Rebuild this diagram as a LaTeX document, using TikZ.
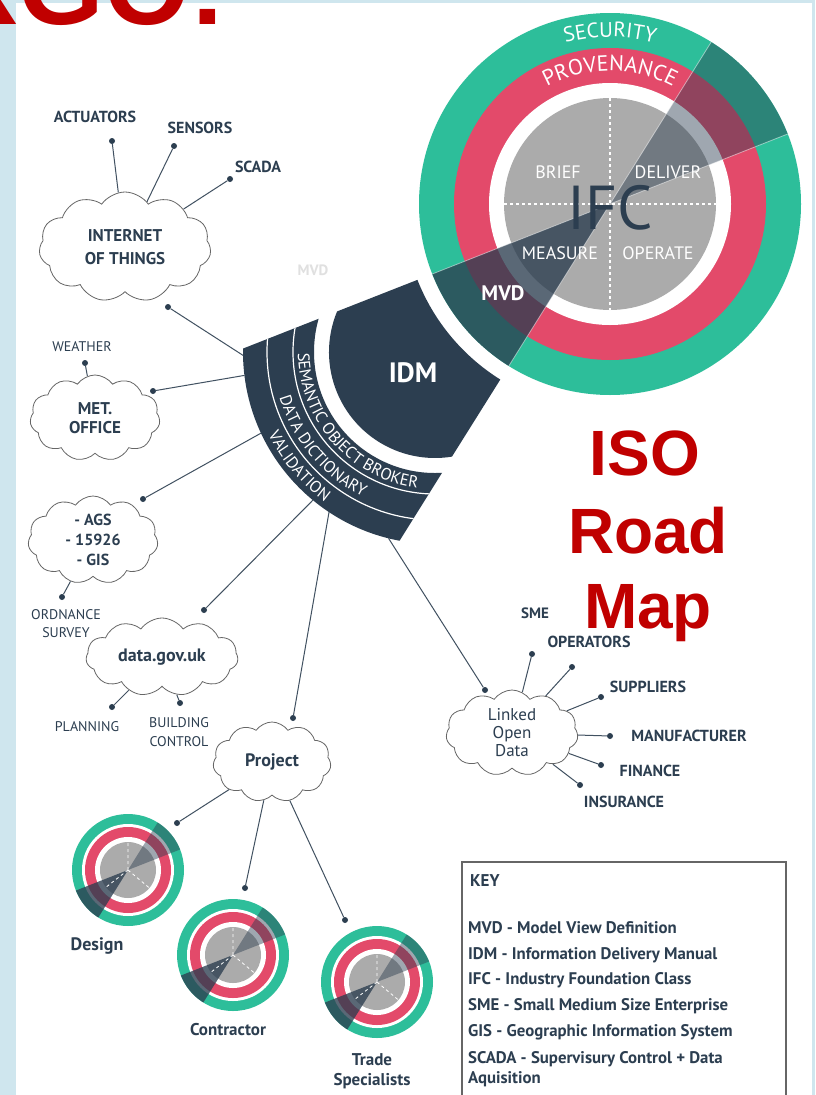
\documentclass[tikz,border=0pt]{standalone}
\usepackage{fontspec}
\setmainfont{PT Sans}
\newfontfamily\arialfont{Liberation Sans}
\usepackage{tikz}
\usetikzlibrary{calc, positioning, shapes.symbols, decorations.text}

\definecolor{navy}{HTML}{2C3E50}
\definecolor{ifcgreen}{HTML}{2DBE9A}
\definecolor{ifcpink}{HTML}{E34A6A}
\definecolor{ifcgrey}{HTML}{ABABAB}
\definecolor{isored}{HTML}{C00000}
\definecolor{slide}{HTML}{CFE6EE}
\newcommand\fsz[2]{\fontsize{#1}{#2}\selectfont}

\begin{document}
\begin{tikzpicture}[x=1pt, y=1pt,
        cloudbox/.style={cloud, cloud puffs=11, cloud puff arc=110, cloud ignores aspect, draw=black!60, line width=.8pt, fill=white, align=center, text=navy, inner sep=0pt},
        endpt/.style={circle, fill=navy, inner sep=0pt, minimum size=6pt},
        lbl/.style={text=navy, font=\bfseries\fsz{16}{19}, align=center, inner sep=0pt},
        thinlbl/.style={text=navy, font=\fsz{14}{18}, align=center, inner sep=0pt},
        keyitem/.style={text=navy, font=\bfseries\fsz{16.8}{20}, anchor=base west, align=left, inner sep=0pt},
        wheeltxt/.style={text=white, font=\fsz{18}{20}, inner sep=0pt},
        link/.style={draw=navy!90!white, line width=1pt},
        bandtxt/.style={decorate, decoration={text along path, text align=center, text color=white, text={#1}}}]

    % Slide
    \useasboundingbox (0,0) rectangle (815,-1095);
    \fill[slide] (0,0) rectangle (815,-1095);
    \fill[white] (16,-3) rectangle (812,-1095);
    \node[anchor=base west, text=isored, font=\arialfont\bfseries\fsz{110}{110}, inner sep=0pt] (ttl) at (-61,-24) {RGO:};

    % IFC wheel
    \coordinate (ifc) at (610,-204);
    \coordinate (c3) at (435,-352);
    \fill[ifcgreen] (ifc) circle (191);
    \fill[ifcpink] (ifc) circle (156);
    \fill[white] (ifc) circle (121);
    \fill[ifcgrey] (ifc) circle (106);
    \fill[navy, opacity=.45] (ifc) -- ($(ifc)+(21.5:191)$) arc[start angle=21.5, end angle=58, radius=191] -- cycle;
    \fill[navy, opacity=.78] (ifc) -- ($(ifc)+(201.5:191)$) arc[start angle=201.5, end angle=238, radius=191] -- cycle;
    \draw[white, opacity=.5, line width=.8pt] ($(ifc)+(21.5:191)$) -- ($(ifc)+(201.5:191)$) ($(ifc)+(58:191)$) -- ($(ifc)+(238:191)$);
    \draw[white, dashed, line width=1.2pt] ($(ifc)+(0,106)$) -- ($(ifc)+(0,-106)$) ($(ifc)+(-106,0)$) -- ($(ifc)+(106,0)$);
    \path[bandtxt={|\fsz{21}{21}|SECURITY}] ($(ifc)+(125:167)$) arc[start angle=125, end angle=55, radius=167];
    \path[bandtxt={|\fsz{22}{22}|PROVENANCE}] ($(ifc)+(132:133)$) arc[start angle=132, end angle=48, radius=133];
    \node[wheeltxt] (brief) at (558,-172) {BRIEF};
    \node[wheeltxt] (deliver) at (668,-172) {DELIVER};
    \node[wheeltxt] (measure) at (560,-253) {MEASURE};
    \node[wheeltxt] (operate) at (658,-253) {OPERATE};
    \node[text=navy, font=\fsz{62}{62}, inner sep=0pt] (ifclbl) at (610,-208) {IFC};
    \node[text=white, font=\bfseries\fsz{21}{24}, inner sep=0pt] (mvd) at (503,-293) {MVD};

    % IDM and bands
    \fill[navy] ($(ifc)+(201.5:207)$) -- ($(c3)+(157.5:106)$) arc[start angle=157.5, end angle=279.2, radius=106] -- ($(ifc)+(238:207)$) arc[start angle=238, end angle=201.5, radius=207] -- cycle;
    \begin{scope}
        \clip ($(ifc)+(201.5:300)$) -- ($(ifc)+(201.5:460)$) -- ($(ifc)+(238:460)$) -- ($(ifc)+(238:300)$) -- cycle;
        \fill[navy, even odd rule] (c3) circle (192) (c3) circle (121);
        \draw[white, line width=1.2pt] (c3) circle (142) (c3) circle (168);
    \end{scope}
    \path[bandtxt={|\fsz{16.5}{16.5}|SEMANTIC OBJECT BROKER}] ($(c3)+(172:137)$) arc[start angle=172, end angle=271, radius=137];
    \path[bandtxt={|\fsz{16.5}{16.5}|DATA DICTIONARY}] ($(c3)+(175:162)$) arc[start angle=175, end angle=265, radius=162];
    \path[bandtxt={|\fsz{16.5}{16.5}|VALIDATION}] ($(c3)+(180:186)$) arc[start angle=180, end angle=260, radius=186];
    \node[text=white, font=\bfseries\fsz{28}{30}, inner sep=0pt] (idm) at (413,-373) {IDM};
    \node[text=black!12, font=\bfseries\fsz{15}{15}, inner sep=0pt] (ghost) at (313,-270) {MVD};

    % Small wheels
    \foreach \nm/\cx/\cy in {wDesign/128/870, wContr/233/955, wTrade/377/982}{
        \coordinate (\nm) at (\cx,-\cy);
        \fill[ifcgreen] (\nm) circle (56);
        \fill[white] (\nm) circle (46);
        \fill[ifcpink] (\nm) circle (43);
        \fill[white] (\nm) circle (33);
        \fill[ifcgrey] (\nm) circle (28);
        \fill[navy, opacity=.45] (\nm) -- ++(21.5:56) arc[start angle=21.5, end angle=58, radius=56] -- cycle;
        \fill[navy, opacity=.78] (\nm) -- ++(201.5:56) arc[start angle=201.5, end angle=238, radius=56] -- cycle;
        \draw[white, dashed, line width=.8pt] (\nm) -- ++(90:28) (\nm) -- ++(320:28) (\nm) -- ++(218:28);
    }

    % Nodes
    \node[cloudbox, minimum width=172, minimum height=110, font=\bfseries\fsz{17}{23}] (iot) at (125,-247) {INTERNET\\OF THINGS};
    \node[cloudbox, minimum width=130, minimum height=86, font=\bfseries\fsz{17}{19}] (met) at (95,-418) {MET.\\OFFICE};
    \node[cloudbox, minimum width=130, minimum height=88, font=\bfseries\fsz{16}{20}] (ags) at (93,-540) {- AGS\\- 15926\\- GIS};
    \node[cloudbox, minimum width=152, minimum height=78, font=\bfseries\fsz{18}{20}] (gov) at (162,-657) {data.gov.uk};
    \node[cloudbox, minimum width=118, minimum height=80, font=\bfseries\fsz{18}{20}] (proj) at (272,-762) {Project};
    \node[cloudbox, minimum width=132, minimum height=86, font=\fsz{17}{18}] (lod) at (512,-733) {Linked\\Open\\Data};

    \node[lbl] (act) at (95,-117) {ACTUATORS};
    \node[lbl] (sen) at (200,-128) {SENSORS};
    \node[lbl] (scada) at (258,-167) {SCADA};
    \node[thinlbl] (weather) at (82,-347) {WEATHER};
    \node[thinlbl] (ordn) at (66,-624) {ORDNANCE\\SURVEY};
    \node[thinlbl] (plan) at (87,-727) {PLANNING};
    \node[thinlbl, font=\fsz{14}{19}] (bcon) at (179,-732) {BUILDING\\CONTROL};
    \node[lbl, font=\bfseries\fsz{15}{18}] (sme) at (535,-613) {SME};
    \node[lbl] (oper) at (589,-642) {OPERATORS};
    \node[lbl] (supp) at (648,-687) {SUPPLIERS};
    \node[lbl] (manu) at (689,-736) {MANUFACTURER};
    \node[lbl] (fin) at (650,-771) {FINANCE};
    \node[lbl] (ins) at (624,-802) {INSURANCE};
    \node[lbl, font=\bfseries\fsz{18}{20}] (dsgnlbl) at (97,-946) {Design};
    \node[lbl, font=\bfseries\fsz{17}{20}] (contrlbl) at (228,-1030) {Contractor};
    \node[lbl, font=\bfseries\fsz{17}{20}] (tradelbl) at (372,-1071) {Trade\\Specialists};

    \node[endpt] (actdot) at (112,-141) {};
    \node[endpt] (sendot) at (174,-146) {};
    \node[endpt] (scadadot) at (230,-179) {};
    \node[endpt] (iotdot) at (168,-307) {};
    \node[endpt] (weatherdot) at (85,-363) {};
    \node[endpt] (metdot) at (153,-391) {};
    \node[endpt] (ordndot) at (62,-597) {};
    \node[endpt] (agsdot) at (143,-499) {};
    \node[endpt] (plandot) at (112,-707) {};
    \node[endpt] (bcondot) at (180,-703) {};
    \node[endpt] (govdot) at (204,-610) {};
    \node[endpt] (projdot) at (293,-718) {};
    \node[endpt] (dsgndot) at (177,-823) {};
    \node[endpt] (contrdot) at (245,-888) {};
    \node[endpt] (tradedot) at (345,-920) {};
    \node[endpt] (loddot) at (485,-690) {};
    \node[endpt] (smedot) at (532,-654) {};
    \node[endpt] (operdot) at (572,-667) {};
    \node[endpt] (suppdot) at (601,-697) {};
    \node[endpt] (manudot) at (610,-736) {};
    \node[endpt] (findot) at (601,-765) {};
    \node[endpt] (insdot) at (580,-785) {};

    \coordinate (bIot) at ($(c3)+(181:192)$);
    \coordinate (bMet) at ($(c3)+(187:192)$);
    \coordinate (bAgs) at ($(c3)+(205:192)$);
    \coordinate (bGov) at ($(c3)+(230.5:192)$);
    \coordinate (bProj) at ($(c3)+(236.5:192)$);
    \coordinate (bLod) at ($(c3)+(256:192)$);

    % Edges
    \draw[link] (actdot) -- (iot);
    \draw[link] (sendot) -- (iot);
    \draw[link] (scadadot) -- (iot);
    \draw[link] (weatherdot) -- (met);
    \draw[link] (ordndot) -- (ags);
    \draw[link] (plandot) -- (gov);
    \draw[link] (bcondot) -- (gov);
    \draw[link] (iotdot) -- (bIot);
    \draw[link] (metdot) -- (bMet);
    \draw[link] (agsdot) -- (bAgs);
    \draw[link] (govdot) -- (bGov);
    \draw[link] (projdot) -- (bProj);
    \draw[link] (loddot) -- (bLod);
    \draw[link] (proj) -- (dsgndot);
    \draw[link] (proj) -- (contrdot);
    \draw[link] (proj) -- (tradedot);
    \draw[link] (smedot) -- (lod);
    \draw[link] (operdot) -- (lod);
    \draw[link] (suppdot) -- (lod);
    \draw[link] (manudot) -- (lod);
    \draw[link] (findot) -- (lod);
    \draw[link] (insdot) -- (lod);

    % ISO road map
    \node[anchor=base, text=isored, font=\arialfont\bfseries\fsz{64}{64}, inner sep=0pt] (iso) at (645,-475) {ISO};
    \node[anchor=base, text=isored, font=\arialfont\bfseries\fsz{64}{64}, inner sep=0pt] (road) at (648,-553) {Road};
    \node[anchor=base, text=isored, font=\arialfont\bfseries\fsz{64}{64}, inner sep=0pt] (map) at (648,-628) {Map};

    % Key
    \draw[black!60, line width=1.2pt] (462,-862) rectangle (786,-1100);
    \node[keyitem, font=\bfseries\fsz{17}{20}] (key) at (470,-886) {KEY};
    \node[keyitem] (k1) at (468,-933) {MVD - Model View Definition};
    \node[keyitem] (k2) at (468,-959) {IDM - Information Delivery Manual};
    \node[keyitem] (k3) at (468,-984) {IFC - Industry Foundation Class};
    \node[keyitem] (k4) at (468,-1010) {SME - Small Medium Size Enterprise};
    \node[keyitem] (k5) at (468,-1036) {GIS - Geographic Information System};
    \node[keyitem] (k6) at (468,-1063) {SCADA - Supervisury Control + Data};
    \node[keyitem] (k7) at (468,-1083) {Aquisition};
\end{tikzpicture}
\end{document}
